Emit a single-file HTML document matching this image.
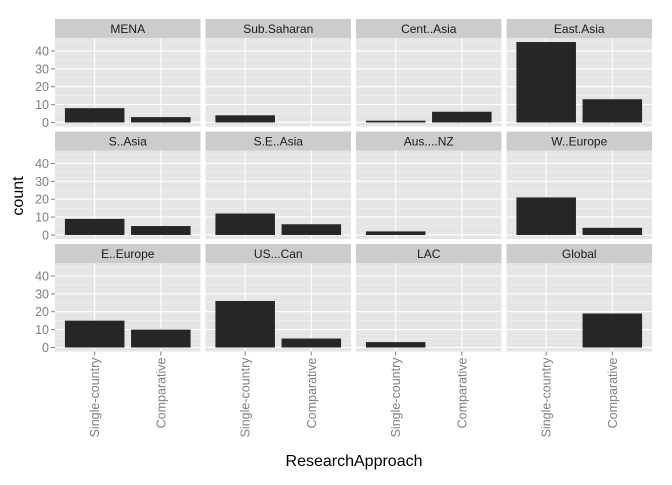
<!DOCTYPE html>
<html><head><meta charset="utf-8"><style>
body{margin:0;background:#fff;}
svg text{font-family:"Liberation Sans",sans-serif;}
</style></head><body>
<svg id="c" width="672" height="480" xmlns="http://www.w3.org/2000/svg"></svg>
<script>
const regions=["MENA","Sub.Saharan","Cent..Asia","East.Asia","S..Asia","S.E..Asia","Aus....NZ","W..Europe","E..Europe","US...Can","LAC","Global"];
const categories=["Single-country","Comparative"];
const singleCounts=[8,4,1,45,9,12,2,21,15,26,3,0];
const compCounts=[3,0,6,13,5,6,0,4,10,5,0,19];
const yTicks=[0,10,20,30,40];
const NS="http://www.w3.org/2000/svg";
const svg=document.getElementById('c');
function el(t,a,p){const e=document.createElementNS(NS,t);for(const k in a)e.setAttribute(k,a[k]);(p||svg).appendChild(e);return e;}
const colX=[55,205.5,356,506.5],pw=145.5;
const rowStrip=[19,131.5,244],sh=19,ph=88.5;
const yMin=-2.25,yMax=47.25,xMin=0.4,xMax=2.6;
function ys(v,top){return top+ph-(v-yMin)/(yMax-yMin)*ph;}
function xs(v,left){return left+(v-xMin)/(xMax-xMin)*pw;}
regions.forEach((r,i)=>{
  const c=i%4,row=Math.floor(i/4);
  const left=colX[c],st=rowStrip[row],top=st+sh;
  const g=el('g',{});
  
  
  el('rect',{x:left,y:st,width:pw,height:sh,fill:'#cccccc'},g);
  const s=el('text',{x:left+pw/2,y:st+14,'text-anchor':'middle','font-size':12,fill:'#1a1a1a'},g);s.textContent=r;
  
  
  el('rect',{x:left,y:top,width:pw,height:ph,fill:'#e5e5e5'},g);
  for(let v=5;v<47;v+=10)el('line',{x1:left,x2:left+pw,y1:ys(v,top),y2:ys(v,top),stroke:'#f2f2f2','stroke-width':0.6},g);
  yTicks.forEach(v=>el('line',{x1:left,x2:left+pw,y1:ys(v,top),y2:ys(v,top),stroke:'#fff','stroke-width':1.1},g));
  [1,2].forEach(v=>el('line',{x1:xs(v,left),x2:xs(v,left),y1:top,y2:top+ph,stroke:'#fff','stroke-width':1.1},g));
  [singleCounts[i],compCounts[i]].forEach((v,k)=>{
    if(v<=0)return;
    const b=el('rect',{x:xs(k+1-0.45,left),width:xs(k+1.45,left)-xs(k+1-0.45,left),y:ys(v,top),height:ys(0,top)-ys(v,top),fill:'#262626'},g);
    
    
  });
  if(c===0){
    yTicks.forEach(v=>{
      el('line',{x1:left-4,x2:left,y1:ys(v,top),y2:ys(v,top),stroke:'#7f7f7f'});
      const t=el('text',{x:left-6,y:ys(v,top)+4.5,'text-anchor':'end','font-size':12.5,fill:'#7f7f7f'});t.textContent=v;
      
      
    });
  }
  if(row===2){
    categories.forEach((cat,k)=>{
      const x=xs(k+1,left),yb=top+ph;
      el('line',{x1:x,x2:x,y1:yb,y2:yb+4,stroke:'#7f7f7f'});
      const t=el('text',{x:x+4.5,y:yb+6,'text-anchor':'end','font-size':12.5,fill:'#7f7f7f',transform:`rotate(-90 ${x+4.5} ${yb+6})`});t.textContent=cat;
      
      
    });
  }
});
const yt=el('text',{x:23,y:196,'text-anchor':'middle','font-size':16,fill:'#000',transform:'rotate(-90 23 196)'});yt.textContent='count';


const xt=el('text',{x:354,y:466,'text-anchor':'middle','font-size':16,fill:'#000'});xt.textContent='ResearchApproach';


</script>
</body></html>
